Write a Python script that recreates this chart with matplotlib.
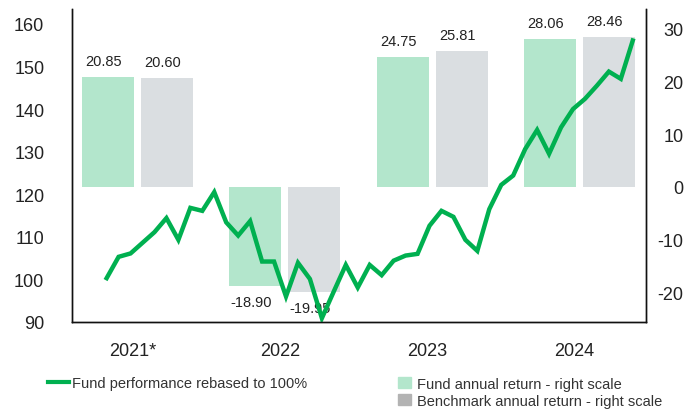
## Fund performance vs annual returns chart
import numpy as np
import matplotlib
matplotlib.use("Agg")
import matplotlib.pyplot as plt
from matplotlib.lines import Line2D
from matplotlib.patches import Patch

plt.rcParams["font.family"] = ["Liberation Sans", "DejaVu Sans"]
plt.rcParams["axes.unicode_minus"] = False

## data
years = ["2021*", "2022", "2023", "2024"]
fund_return = [20.85, -18.90, 24.75, 28.06]
bench_return = [20.60, -19.95, 25.81, 28.46]

## monthly fund value, rebased to 100
fund_perf = [100.3, 105.3, 106.1, 108.6, 111.1, 114.4, 109.3, 116.8, 116.1, 120.5,
             113.4, 110.3, 113.7, 104.2, 104.2, 96.0, 103.9, 100.1, 90.9, 97.2,
             103.4, 98.1, 103.4, 101.0, 104.4, 105.6, 106.0, 112.6, 116.1, 114.7,
             109.3, 106.7, 116.5, 122.2, 124.4, 130.6, 135.1, 129.5, 135.7, 140.0,
             142.4, 145.5, 148.8, 147.1, 156.1]

## colors
green_bar = "#b3e6cc"
gray_bar = "#dadee1"
gray_legend = "#b3b3b3"
line_green = "#00b050"
text_col = "#222222"

fig = plt.figure(figsize=(7, 4.1), dpi=100)
ax = fig.add_axes([0.1029, 0.2122, 0.82, 0.7634])  # left scale (fund)
ax2 = ax.twinx()  # right scale (returns)

## bars on the right scale
x = np.arange(len(years))
w = 0.353
off = 0.2
ax2.bar(x - off, fund_return, width=w, color=green_bar, zorder=1)
ax2.bar(x + off, bench_return, width=w, color=gray_bar, zorder=1)

## value labels
for xi, v in zip(x - off, fund_return):
    ax2.annotate(f"{v:.2f}", (xi - 0.03, v), xytext=(0, 11.5 if v > 0 else -11.5),
                 textcoords="offset points", ha="center", va="center",
                 fontsize=10.5, color=text_col)
for xi, v in zip(x + off, bench_return):
    ax2.annotate(f"{v:.2f}", (xi - 0.03, v), xytext=(0, 11.5 if v > 0 else -11.5),
                 textcoords="offset points", ha="center", va="center",
                 fontsize=10.5, color=text_col)

## line on the left scale, drawn on top of the bars
ax.set_zorder(ax2.get_zorder() + 1)
ax.patch.set_visible(False)
xl = np.linspace(-0.21, 3.362, len(fund_perf))
ax.plot(xl, fund_perf, color=line_green, lw=3.2, solid_joinstyle="miter")

## axes limits
ax.set_xlim(-0.445, 3.452)
ax.set_ylim(90, 163.5)
ax2.set_ylim(-25.7, 33.8)

ax.set_yticks(range(90, 161, 10))
ax2.set_yticks(range(-20, 31, 10))
ax.set_xticks([])

ax.tick_params(axis="y", length=0, pad=20, labelsize=13, labelcolor=text_col)
ax2.tick_params(axis="y", length=0, pad=27, labelsize=13, labelcolor=text_col)
for lab in ax2.get_yticklabels():
    lab.set_horizontalalignment("right")

for a in (ax, ax2):
    a.spines["top"].set_visible(False)
    for s in ("left", "right", "bottom"):
        a.spines[s].set_linewidth(1)
        a.spines[s].set_color("#111111")

## year labels under the groups
for xi, yr in zip(x, years):
    ax.text(xi - 0.035, -0.092, yr, transform=ax.get_xaxis_transform(),
            ha="center", va="center", fontsize=13, color=text_col)

## legends
leg1 = fig.legend(handles=[Line2D([], [], color=line_green, lw=3)],
                  labels=["Fund performance rebased to 100%"],
                  loc="center left", bbox_to_anchor=(0.068, 0.063), frameon=False,
                  fontsize=10.5, handlelength=1.5, handletextpad=0.15, borderpad=0,
                  borderaxespad=0)
for t in leg1.get_texts():
    t.set_color("#333333")
leg2 = fig.legend(handles=[Patch(color=green_bar), Patch(color=gray_legend)],
                  labels=["Fund annual return - right scale", "Benchmark annual return - right scale"],
                  loc="center left", bbox_to_anchor=(0.569, 0.041), frameon=False,
                  fontsize=10.5, handlelength=0.87, handleheight=0.8, handletextpad=0.42,
                  labelspacing=0.18, borderpad=0, borderaxespad=0)
for t in leg2.get_texts():
    t.set_color("#333333")

fig.savefig("out.png", dpi=100)
